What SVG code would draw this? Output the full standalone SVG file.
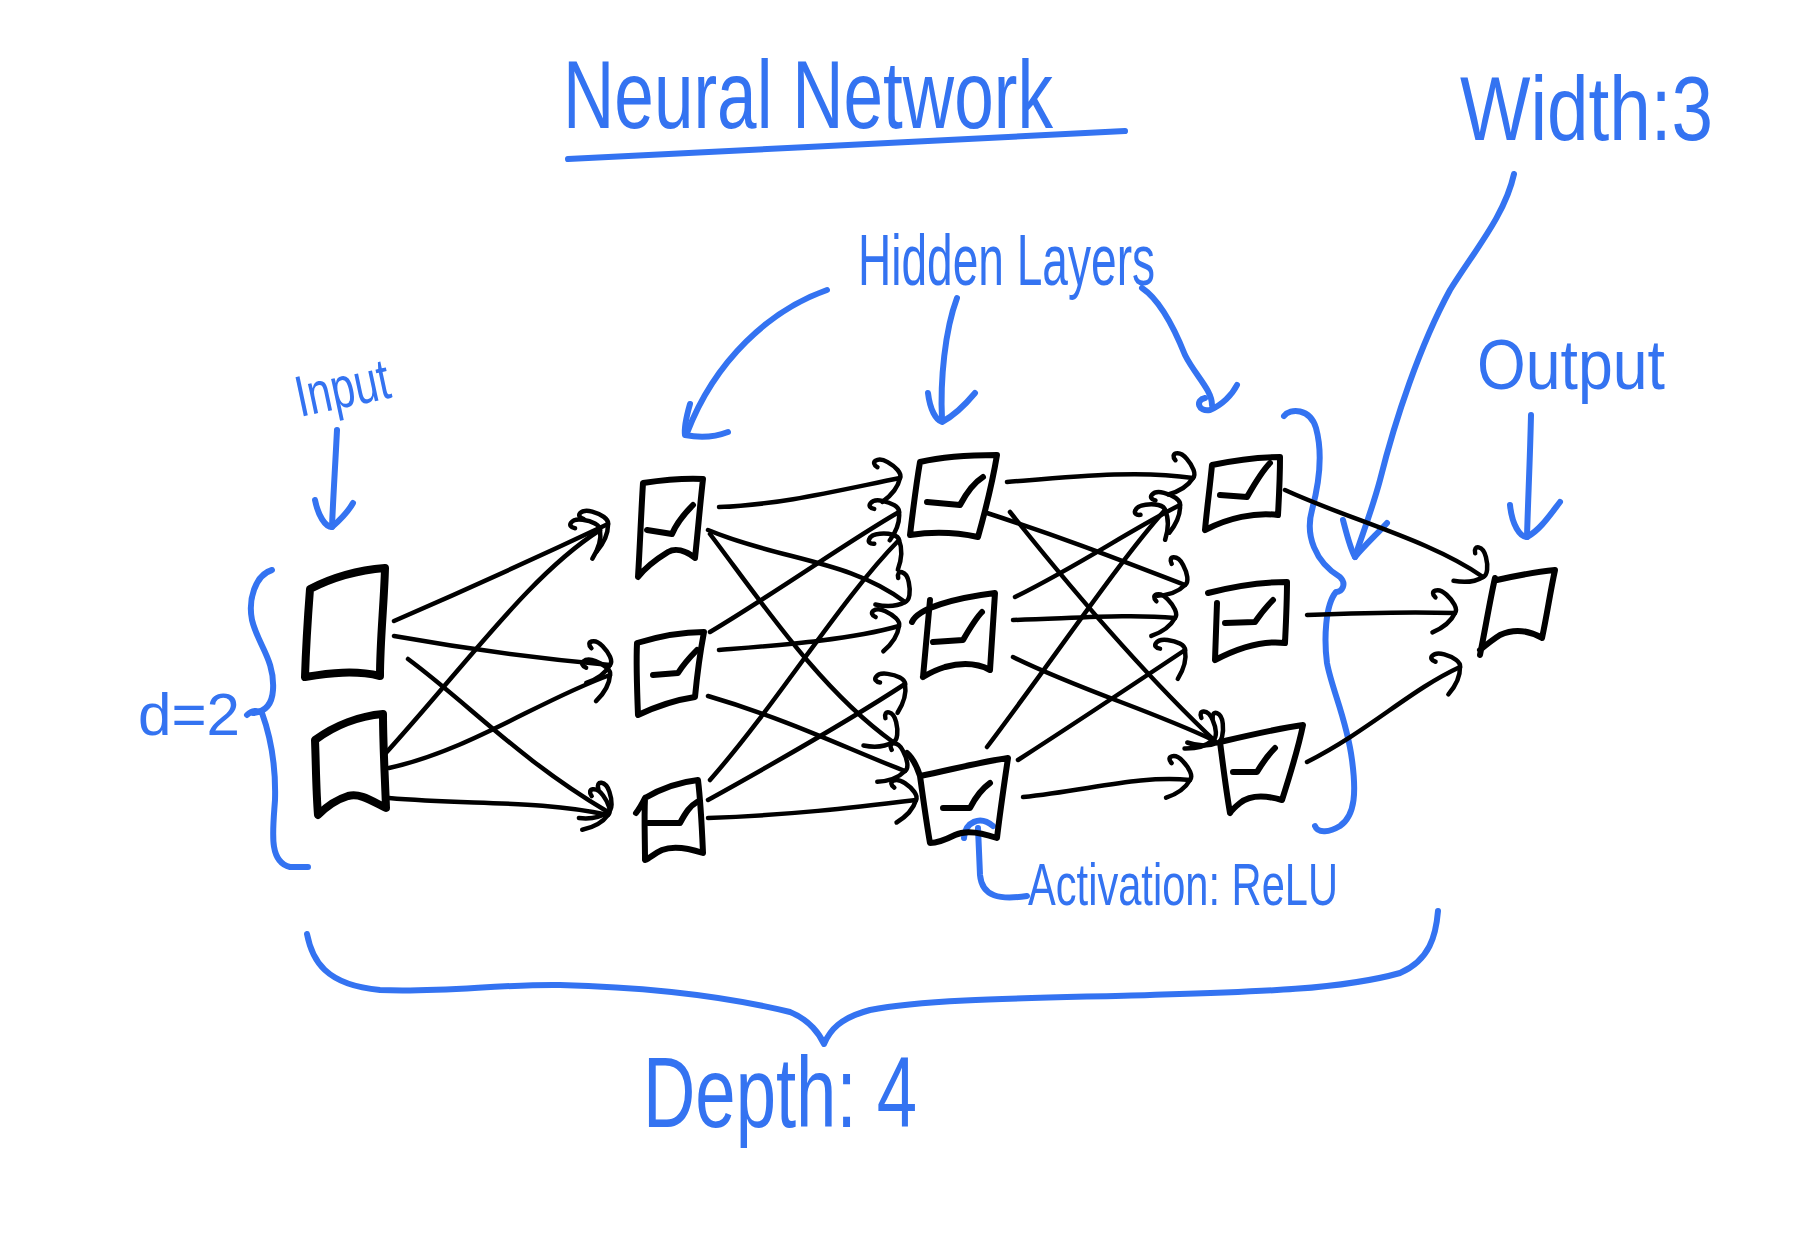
<svg xmlns="http://www.w3.org/2000/svg" width="1819" height="1247" viewBox="0 0 1819 1247">
<style>
.node{fill:none;stroke:#000;stroke-width:6;stroke-linecap:round;stroke-linejoin:round}
.thick{stroke-width:8}
.edge{fill:none;stroke:#000;stroke-width:4.5;stroke-linecap:round;marker-end:url(#ah)}
.blue{fill:none;stroke:#3473F1;stroke-width:6;stroke-linecap:round;stroke-linejoin:round}
.txt{fill:#3473F1;font-family:"Liberation Sans",Arial,sans-serif}
</style>
<defs>
<marker id="ah" markerUnits="userSpaceOnUse" markerWidth="60" markerHeight="60" viewBox="-40 -30 60 60" refX="0" refY="0" orient="auto" overflow="visible">
<path d="M-20,-15 C-27,-21 -18,-26 -9,-18 C-2,-12 3,-4 0,0 C-3,7 -11,15 -22,20" fill="none" stroke="#000" stroke-width="4.5" stroke-linecap="round"/>
</marker>
</defs>
<rect width="1819" height="1247" fill="#fff"/>

<g id="title">
<text class="txt" x="563" y="128" font-size="96" textLength="490" lengthAdjust="spacingAndGlyphs">Neural Network</text>
<path class="blue" d="M568,159 C750,150 950,140 1125,131"/>
</g>
<g id="width-label">
<text class="txt" x="1460" y="140" font-size="90" textLength="253" lengthAdjust="spacingAndGlyphs">Width:3</text>
<path class="blue" d="M1514,174 C1505,215 1475,250 1450,290 C1420,345 1395,420 1380,480 C1372,510 1362,535 1355,557"/>
<path class="blue" d="M1343,520 C1347,535 1350,548 1355,557 C1365,545 1378,533 1387,523"/>
</g>
<g id="hidden-label">
<text class="txt" x="858" y="285" font-size="72" textLength="297" lengthAdjust="spacingAndGlyphs">Hidden Layers</text>
<path class="blue" d="M827,290 C770,310 715,360 687,433"/>
<path class="blue" d="M690,404 C686,418 684,428 685,435 C700,438 715,437 728,432"/>
<path class="blue" d="M957,298 C945,330 940,380 942,420"/>
<path class="blue" d="M928,393 C930,410 936,420 942,422 C955,415 965,405 975,393"/>
<path class="blue" d="M1142,288 C1160,300 1175,330 1185,355 C1195,375 1212,390 1212,405"/>
<path class="blue" d="M1205,398 C1195,400 1198,412 1210,410 C1222,405 1232,395 1237,385"/>
</g>
<g id="input-label">
<text class="txt" x="300" y="417" font-size="58" textLength="95" lengthAdjust="spacingAndGlyphs" transform="rotate(-12 300 417)">Input</text>
<path class="blue" d="M337,430 C335,470 333,500 332,527"/>
<path class="blue" d="M315,500 C318,515 325,527 332,527 C340,520 348,512 353,503"/>
</g>
<g id="output-label">
<text class="txt" x="1477" y="389" font-size="70" textLength="188" lengthAdjust="spacingAndGlyphs">Output</text>
<path class="blue" d="M1531,415 C1530,460 1528,500 1527,537"/>
<path class="blue" d="M1510,505 C1512,525 1520,537 1527,537 C1540,530 1550,515 1560,502"/>
</g>
<g id="d-label">
<text class="txt" x="138" y="735" font-size="60" textLength="102" lengthAdjust="spacingAndGlyphs">d=2</text>
<path class="blue" d="M272,570 C255,575 248,600 252,620 C258,645 275,660 273,690 C272,705 265,712 253,713"/>
<path class="blue" d="M247,715 C252,710 258,710 262,713 C270,735 276,765 275,800 C273,830 268,862 290,867 L308,867"/>
</g>
<g id="activation-label">
<text class="txt" x="1028" y="905" font-size="60" textLength="310" lengthAdjust="spacingAndGlyphs">Activation: ReLU</text>
<path class="blue" d="M1027,896 C1000,900 982,897 980,875 L978,828"/>
<path class="blue" d="M964,838 C965,822 980,815 993,826"/>
</g>
<g id="width-brace">
<path class="blue" d="M1284,416 C1290,408 1310,408 1316,428 C1322,450 1320,480 1312,510 C1305,535 1315,562 1340,577 C1347,584 1342,592 1336,592 C1325,605 1324,640 1327,663 C1332,690 1347,720 1352,760 C1356,790 1356,815 1340,826 C1330,832 1318,834 1315,826" stroke-width="7"/>
</g>
<g id="depth-label">
<path class="blue" d="M307,934 C312,960 325,985 380,990 C440,993 500,984 560,985 C640,987 720,995 790,1012 C810,1020 820,1035 824,1044 C830,1030 840,1018 870,1010 C930,998 1050,998 1150,995 C1250,992 1340,990 1400,973 C1430,960 1436,935 1438,911" stroke-width="7"/>
<text class="txt" x="643" y="1127" font-size="100" textLength="274" lengthAdjust="spacingAndGlyphs">Depth: 4</text>
</g>

<g id="connectors">
<path class="edge" d="M394,621 Q500,575 608,524"/>
<path class="edge" d="M394,636 Q500,655 610,665"/>
<path class="edge" d="M408,659 C470,705 520,760 608,812"/>
<path class="edge" d="M385,754 C470,660 530,575 600,530"/>
<path class="edge" d="M389,768 C470,750 540,700 610,675"/>
<path class="edge" d="M389,798 C470,805 540,800 608,815"/>

<path class="edge" d="M719,507 C780,505 840,490 900,478"/>
<path class="edge" d="M708,530 C780,560 850,560 905,602"/>
<path class="edge" d="M710,534 C760,600 820,690 893,742"/>
<path class="edge" d="M710,632 C780,590 850,540 899,512"/>
<path class="edge" d="M719,650 C780,645 850,640 899,626"/>
<path class="edge" d="M708,696 C790,720 850,750 905,771"/>
<path class="edge" d="M710,780 C780,700 840,600 899,540"/>
<path class="edge" d="M708,800 C780,760 850,720 905,684"/>
<path class="edge" d="M708,818 C790,815 850,808 916,800"/>

<path class="edge" d="M1007,482 C1080,476 1140,470 1193,478"/>
<path class="edge" d="M987,513 C1070,540 1120,560 1185,585"/>
<path class="edge" d="M1010,512 C1080,600 1150,680 1217,743"/>
<path class="edge" d="M1015,597 C1080,565 1130,530 1180,505"/>
<path class="edge" d="M1013,620 C1080,618 1130,614 1175,618"/>
<path class="edge" d="M1013,657 C1080,690 1150,710 1213,740"/>
<path class="edge" d="M987,747 C1060,650 1120,560 1165,510"/>
<path class="edge" d="M1018,760 C1080,720 1140,680 1185,650"/>
<path class="edge" d="M1023,797 C1090,790 1140,775 1190,780"/>

<path class="edge" d="M1285,490 C1350,520 1430,540 1483,577"/>
<path class="edge" d="M1307,615 C1380,612 1420,612 1455,613"/>
<path class="edge" d="M1307,762 C1370,730 1410,690 1460,667"/>
</g>

<g id="input-1"><path class="node thick" d="M310,589 C335,576 360,570 385,568 C384,605 380,640 380,676 C355,670 330,673 305,677 C306,645 308,615 310,589 Z"/></g>
<g id="input-2"><path class="node thick" d="M315,740 C335,725 360,716 383,714 C383,745 385,778 386,808 C370,800 360,793 348,796 C335,800 325,808 318,815 C316,790 316,765 315,740 Z"/></g>

<g id="hidden-1a"><path class="node" d="M643,483 C663,480 683,478 703,479 C700,505 698,530 695,558 C685,550 675,548 668,552 C655,560 645,568 638,577 C640,545 641,515 643,483 Z"/><path class="node" d="M647,530 L672,534 C678,520 688,510 693,505"/></g>
<g id="hidden-1b"><path class="node" d="M637,643 C660,636 683,632 704,632 C700,653 697,676 695,697 C675,700 655,707 638,715 C637,690 636,665 637,643 Z"/><path class="node" d="M653,675 L678,673 C685,662 690,657 697,650"/></g>
<g id="hidden-1c"><path class="node" d="M645,860 C645,840 644,818 645,798 C662,788 680,782 698,780 C701,805 702,830 703,853 C688,848 672,846 662,850 C655,853 650,858 645,860 Z M636,813 C640,808 643,802 645,798"/><path class="node" d="M648,823 L680,823 C686,812 690,806 697,802"/></g>

<g id="hidden-2a"><path class="node" d="M920,462 C945,456 970,455 997,455 C992,485 985,512 978,537 C955,532 930,532 910,535 C913,510 916,485 920,462 Z"/><path class="node" d="M927,502 L960,505 C968,490 975,482 983,477"/></g>
<g id="hidden-2b"><path class="node" d="M912,622 C918,608 955,598 995,593 L990,670 C975,662 960,663 945,667 C935,670 928,674 923,677 M930,600 L923,677"/><path class="node" d="M933,642 L963,640 C970,628 976,618 982,612"/></g>
<g id="hidden-2c"><path class="node" d="M907,753 C915,760 918,770 920,776 C950,770 980,762 1008,758 C1004,785 1000,812 997,838 C980,832 965,830 955,835 C945,840 937,843 930,843 C926,820 923,797 920,776"/><path class="node" d="M943,808 L970,808 C976,796 983,788 990,783"/></g>

<g id="hidden-3a"><path class="node" d="M1212,465 C1235,460 1258,457 1280,457 C1280,478 1279,497 1278,515 C1255,512 1228,518 1205,530 C1207,508 1210,486 1212,465 Z"/><path class="node" d="M1220,495 L1247,497 C1255,483 1263,470 1270,463"/></g>
<g id="hidden-3b"><path class="node" d="M1208,593 C1235,586 1262,582 1287,582 C1287,602 1286,622 1285,643 C1262,640 1238,648 1215,660 L1217,603"/><path class="node" d="M1225,623 L1255,622 C1262,612 1268,605 1273,600"/></g>
<g id="hidden-3c"><path class="node" d="M1220,742 C1250,735 1280,728 1303,725 C1298,750 1290,775 1282,800 C1265,795 1250,795 1240,803 C1235,807 1232,810 1230,813 C1226,790 1223,765 1220,742 Z"/><path class="node" d="M1233,772 L1257,772 C1263,762 1270,753 1275,748"/></g>

<g id="output-node"><path class="node" d="M1497,580 C1515,576 1535,572 1555,570 C1550,593 1547,615 1542,638 C1528,630 1515,628 1500,635 C1492,640 1486,645 1480,650 M1495,578 C1490,600 1486,625 1480,655"/></g>
</svg>
